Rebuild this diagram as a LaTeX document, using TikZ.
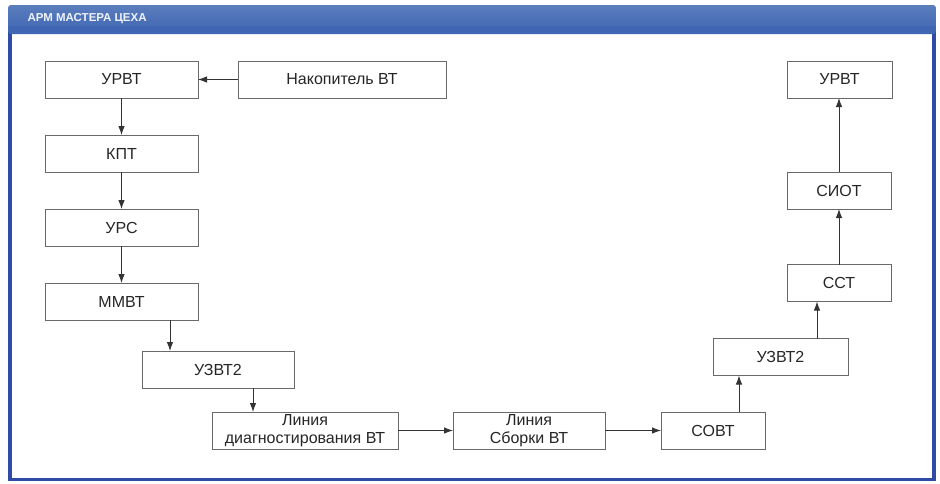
\documentclass[tikz,border=0pt]{standalone}
\usepackage{fontspec}
\setmainfont{Liberation Sans}
\usetikzlibrary{arrows.meta}
\definecolor{barblue}{RGB}{62,102,178}
\definecolor{frameblue}{RGB}{46,76,166}
\definecolor{boxgray}{RGB}{105,105,105}

\begin{document}
\begin{tikzpicture}[x=1pt,y=-1pt,
  box/.style={draw=boxgray, line width=1pt, fill=white, minimum height=37pt, inner sep=0pt, outer sep=0pt, align=center, text=black!85, font=\fontsize{16}{18}\selectfont},
  link/.style={draw=black!80, line width=0.9pt, -{Latex[length=9pt,width=6.5pt]}}]
\useasboundingbox (0,0) rectangle (940,483);

\fill[frameblue] (8,32) rectangle (936,481);
\fill[white] (12,32) rectangle (932,478);
\shade[top color=barblue!85!white, bottom color=barblue, rounded corners=3pt] (8,5) rectangle (936,34);
\fill[barblue] (8,26) rectangle (936,32);
\node[anchor=west, text=white!92!barblue, font=\bfseries\fontsize{11.5}{13}\selectfont] (title) at (24,19) {АРМ МАСТЕРА ЦЕХА};

\node[box, minimum width=153pt] (urvtA) at (121.5,79.5) {УРВТ};
\node[box, minimum width=208pt] (nakop) at (342,79.5) {Накопитель ВТ};
\node[box, minimum width=153pt] (kpt) at (121.5,153.5) {КПТ};
\node[box, minimum width=153pt] (urs) at (121.5,227.5) {УРС};
\node[box, minimum width=153pt] (mmvt) at (121.5,301.5) {ММВТ};
\node[box, minimum width=152pt] (uzvtA) at (218,369.5) {УЗВТ2};
\node[box, minimum width=186pt] (lindiag) at (305,430.5) {Линия\\диагностирования ВТ};
\node[box, minimum width=152pt] (linsb) at (529,430.5) {Линия\\Сборки ВТ};
\node[box, minimum width=104pt] (sovt) at (713,430.5) {СОВТ};
\node[box, minimum width=135pt] (uzvtB) at (780.5,357) {УЗВТ2};
\node[box, minimum width=104pt] (sst) at (839,283) {ССТ};
\node[box, minimum width=104pt] (siot) at (839,190.5) {СИОТ};
\node[box, minimum width=105pt] (urvtB) at (839.5,79.5) {УРВТ};

\draw[link] (nakop) -- (urvtA);
\draw[link] (urvtA) -- (kpt);
\draw[link] (kpt) -- (urs);
\draw[link] (urs) -- (mmvt);
\draw[link] ([xshift=48.5pt]mmvt.south) -- ([xshift=48.5pt]mmvt.south |- uzvtA.north);
\draw[link] ([xshift=35pt]uzvtA.south) -- ([xshift=35pt]uzvtA.south |- lindiag.north);
\draw[link] (lindiag) -- (linsb);
\draw[link] (linsb) -- (sovt);
\draw[link] ([xshift=26pt]sovt.north) -- ([xshift=26pt]sovt.north |- uzvtB.south);
\draw[link] ([xshift=36.5pt]uzvtB.north) -- ([xshift=36.5pt]uzvtB.north |- sst.south);
\draw[link] (sst) -- (siot);
\draw[link] (siot) -- (urvtB.south -| siot.north);
\end{tikzpicture}
\end{document}
